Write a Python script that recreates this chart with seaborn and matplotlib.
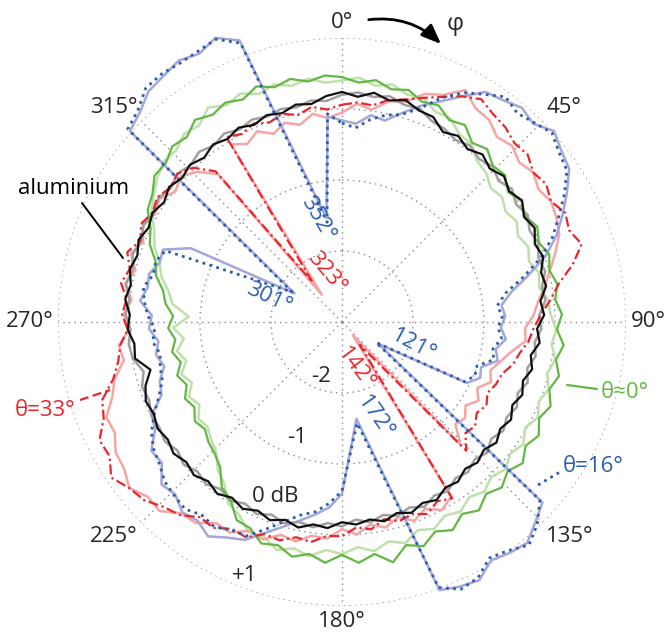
import numpy as np
import matplotlib
matplotlib.use('Agg')
import matplotlib.pyplot as plt
import seaborn as sns
from matplotlib.lines import Line2D

# measurement angles phi (deg), one value per 4 degrees; nan = no sample there
phi = np.arange(0, 360, 4)
nan = np.nan

# relative level in dB
aluminium = [
    0.24, 0.18, 0.26, 0.19, 0.25, 0.17, 0.16, 0.03, 0.09, 0.01,
    0.08, 0.00, 0.07, -0.01, 0.06, -0.04, 0.02, -0.07, -0.02, -0.11,
    -0.08, -0.19, -0.15, -0.25, -0.20, -0.30, -0.24, -0.32, -0.26, -0.33,
    -0.25, -0.31, -0.24, -0.31, -0.25, -0.30, -0.22, -0.25, -0.16, -0.21,
    -0.14, -0.20, -0.13, -0.19, -0.14, -0.18, -0.09, -0.12, -0.04, -0.10,
    -0.03, -0.09, -0.02, -0.08, -0.01, -0.07, 0.00, -0.05, 0.01, -0.04,
    0.00, -0.05, -0.02, -0.09, -0.22, -0.04, -0.06, 0.02, -0.01, 0.07,
    0.02, 0.08, 0.03, 0.09, 0.03, 0.08, 0.02, 0.09, 0.03, 0.08,
    0.02, 0.09, 0.04, 0.10, 0.04, 0.10, 0.06, 0.13, 0.10, 0.19]
aluminium_2 = [
    0.20, 0.24, 0.20, 0.25, 0.18, 0.20, 0.10, 0.08, 0.02, 0.07,
    0.00, 0.05, -0.03, 0.04, -0.04, 0.02, -0.06, -0.02, -0.09, -0.05,
    -0.14, -0.12, -0.22, -0.19, -0.27, -0.23, -0.31, -0.25, -0.33, -0.26,
    -0.32, -0.26, -0.33, -0.25, -0.31, -0.24, -0.28, -0.19, -0.23, -0.15,
    -0.22, -0.16, -0.22, -0.15, -0.21, -0.12, -0.16, -0.08, -0.12, -0.05,
    -0.11, -0.04, -0.10, -0.03, -0.09, -0.02, -0.07, 0.00, -0.06, 0.01,
    -0.03, -0.01, -0.07, -0.04, -0.12, -0.01, 0.02, -0.02, 0.05, 0.01,
    0.09, 0.04, 0.10, 0.05, 0.11, 0.06, 0.12, 0.06, 0.12, 0.07,
    0.13, 0.07, 0.13, 0.07, 0.12, 0.08, 0.12, 0.09, 0.15, 0.12]
theta0 = [
    0.45, 0.38, 0.44, 0.35, 0.40, 0.30, 0.34, 0.22, 0.27, 0.12,
    0.18, 0.06, 0.09, -0.03, 0.05, -0.02, 0.06, -0.01, 0.07, 0.01,
    0.08, 0.02, 0.10, 0.03, 0.14, 0.06, 0.15, 0.07, 0.17, 0.09,
    0.20, 0.12, 0.23, 0.14, 0.24, 0.16, 0.28, 0.19, 0.32, 0.23,
    0.36, 0.27, 0.46, 0.30, 0.40, 0.28, 0.40, 0.30, 0.38, 0.27,
    0.32, 0.18, 0.16, -0.04, -0.12, -0.33, -0.42, -0.47, -0.55, -0.50,
    -0.60, -0.54, -0.64, -0.56, -0.66, -0.57, -0.64, -0.55, -0.62, -0.50,
    -0.44, -0.30, -0.24, -0.08, 0.00, 0.16, 0.22, 0.35, 0.34, 0.44,
    0.40, 0.52, 0.44, 0.50, 0.43, 0.53, 0.44, 0.50, 0.42, 0.48]
theta0_2 = [
    0.40, 0.45, 0.36, 0.42, 0.33, 0.36, 0.24, 0.25, 0.12, 0.10,
    -0.04, -0.08, -0.18, -0.14, -0.22, -0.16, -0.24, -0.17, -0.23, -0.14,
    -0.18, -0.08, -0.06, 0.02, -0.03, 0.05, -0.02, 0.06, -0.01, 0.07,
    -0.02, 0.08, 0.01, 0.10, 0.03, 0.12, 0.05, 0.15, 0.09, 0.19,
    0.12, 0.24, 0.16, 0.26, 0.18, 0.27, 0.22, 0.33, 0.26, 0.34,
    0.22, 0.24, 0.08, 0.02, -0.18, -0.28, -0.45, -0.52, -0.60, -0.56,
    -0.68, -0.60, -0.72, -0.62, -0.74, -0.64, -0.76, -0.62, -0.84, -0.60,
    -0.52, -0.38, -0.30, -0.15, -0.06, 0.10, 0.20, 0.30, 0.38, 0.36,
    0.46, 0.42, 0.56, 0.46, 0.52, 0.42, 0.48, 0.40, 0.46, 0.38]
theta33 = [
    0.06, 0.10, 0.08, 0.20, 0.26, 0.36, 0.47, 0.60, 0.70, 0.62,
    0.58, 0.50, 0.52, 0.42, 0.47, 0.40, 0.50, 0.45, 0.55, 0.35,
    0.10, -0.05, -0.20, -0.30, -0.36, -0.46, -0.52, -0.63, -0.66, -0.72,
    -0.65, -0.71, -0.62, -0.66, -0.48, nan, nan, -0.07, -0.14, -0.04,
    -0.12, -0.08, -0.16, -0.05, -0.10, 0.02, 0.02, 0.13, 0.10, 0.20,
    0.18, 0.32, 0.30, 0.42, 0.40, 0.55, 0.62, 0.75, 0.80, 0.92,
    0.78, 0.80, 0.62, 0.55, 0.32, 0.20, 0.14, 0.02, 0.10, 0.05,
    0.16, 0.08, 0.18, 0.06, 0.15, 0.08, 0.14, 0.07, 0.12, 0.02,
    -0.23, nan, 0.07, 0.00, 0.06, -0.01, 0.05, -0.02, 0.06, 0.00]
theta33_2 = [
    -0.05, 0.08, 0.02, 0.18, 0.22, 0.42, 0.50, 0.70, 0.55, 0.52,
    0.40, 0.45, 0.36, 0.42, 0.34, 0.40, 0.36, 0.30, 0.16, 0.02,
    -0.10, -0.22, -0.30, -0.42, -0.40, -0.58, -0.70, -0.80, -0.74, -0.88,
    -0.78, -0.90, -0.80, -0.85, -0.60, nan, nan, -0.10, 0.00, -0.12,
    -0.02, -0.14, -0.04, -0.12, 0.00, -0.08, 0.06, 0.04, 0.16, 0.12,
    0.26, 0.22, 0.36, 0.34, 0.50, 0.52, 0.70, 0.68, 0.80, 0.70,
    0.68, 0.56, 0.58, 0.40, 0.30, 0.12, 0.16, 0.00, 0.08, -0.02,
    0.10, 0.00, 0.12, 0.02, 0.12, 0.04, 0.10, -0.02, 0.06, -0.06,
    -0.28, nan, -0.05, -0.16, -0.06, -0.18, -0.08, -0.16, -0.04, -0.12]
theta16 = [
    -0.20, -0.26, -0.12, -0.02, 0.04, 0.20, 0.46, 0.66, 0.78, 0.92,
    0.84, 0.90, 0.98, 0.88, 0.82, 0.62, 0.40, 0.20, -0.05, -0.36,
    -0.66, -0.80, -0.74, -0.80, -0.74, -0.84, -0.80, -1.00, -0.98, -1.08,
    nan, nan, nan, 0.75, 0.96, 1.10, 0.98, 0.92, 1.08, 1.12,
    0.98, nan, nan, nan, nan, -0.62, -0.44, -0.30, -0.22, -0.08,
    0.10, 0.30, 0.32, 0.40, 0.36, 0.44, 0.40, 0.36, 0.26, 0.20,
    0.10, -0.06, -0.22, -0.34, -0.36, -0.40, -0.32, -0.36, -0.26, -0.20,
    -0.16, -0.26, -0.24, -0.32, nan, nan, nan, nan, 1.06, 1.14,
    1.30, 1.32, 1.30, 1.32, 1.36, 1.18, nan, nan, nan, -0.06]
theta16_2 = [
    -0.16, -0.20, -0.06, -0.10, 0.06, 0.24, 0.40, 0.60, 0.82, 0.86,
    0.94, 0.88, 1.02, 0.92, 0.86, 0.66, 0.46, 0.26, 0.02, -0.30,
    -0.58, -0.74, -0.70, -0.76, -0.68, -0.80, -0.74, -0.94, -0.90, -1.04,
    nan, nan, nan, 0.80, 0.92, 1.06, 1.02, 0.96, 1.12, 1.08,
    1.02, nan, nan, nan, nan, -0.58, -0.38, -0.26, -0.14, 0.00,
    0.16, 0.36, 0.44, 0.56, 0.46, 0.50, 0.38, 0.42, 0.22, 0.24,
    0.04, -0.02, -0.26, -0.30, -0.42, -0.34, -0.40, -0.28, -0.32, -0.14,
    -0.22, -0.20, -0.30, -0.28, -0.63, nan, nan, nan, 1.02, 1.10,
    1.24, 1.28, 1.34, 1.28, 1.38, 1.22, nan, nan, nan, -0.10]

# narrow dips (angle of minimum, level)
dip16_phi = [121, 171.5, 301, 351.5]
dip16_db = [-2.44, -1.56, -2.18, -1.58]
dip16_2_db = [-2.40, -1.62, -2.22, -1.52]
dip33_phi = [142, 323.5]
dip33_db = [-2.59, -2.30]
dip33_2_phi = [140.5, 323.5]
dip33_2_db = [-2.76, -2.52]

dip_labels = ['352°', '323°', '301°', '121°', '142°', '172°']

r_ticks = [-2, -1, 0, 1]
r_labels = ['-2', '-1', '0 dB', '+1']
phi_ticks = [0, 45, 90, 135, 180, 225, 270, 315]

GREEN, LGREEN = '#62b842', '#bfe0ab'
RED, PINK = '#e8262b', '#f6a5a5'
BLUE, LAV = '#2b5fae', '#a4a7d9'
FS = 16


def trace(vals, extra_phi=(), extra_db=()):
    v = np.asarray(vals, dtype=float)
    keep = ~np.isnan(v)
    a = np.r_[phi[keep], extra_phi]
    d = np.r_[v[keep], extra_db]
    o = np.argsort(a)
    a, d = a[o], d[o]
    a = np.r_[a, a[0] + 360]
    d = np.r_[d, d[0]]
    return np.deg2rad(a), d


sns.set_theme(style='white')
plt.rcParams['font.family'] = ['Open Sans', 'DejaVu Sans']

fig = plt.figure(figsize=(6.65, 6.33), dpi=100)
ax = fig.add_axes([0.0872, 0.0427, 0.8541, 0.8973], projection='polar')
ax.set_theta_zero_location('N')
ax.set_theta_direction(-1)

series = [
    (theta0_2, (), (), dict(color=LGREEN, lw=1.8, ls='-', zorder=3)),
    (theta33_2, dip33_2_phi, dip33_2_db, dict(color=PINK, lw=1.8, ls='-', zorder=3)),
    (theta16_2, dip16_phi, dip16_2_db, dict(color=LAV, lw=1.8, ls='-', zorder=3)),
    (aluminium_2, (), (), dict(color='#a0a0a0', lw=1.8, ls='-', zorder=4)),
    (theta0, (), (), dict(color=GREEN, lw=1.6, ls='-', zorder=5)),
    (theta33, dip33_phi, dip33_db, dict(color=RED, lw=1.6, ls=(0, (4.5, 1.6, 1, 1.6)), zorder=5)),
    (theta16, dip16_phi, dip16_db, dict(color=BLUE, lw=2.0, ls=(0, (1, 1.6)), zorder=6)),
    (aluminium, (), (), dict(color='#111111', lw=1.6, ls='-', zorder=7)),
]
for vals, ep, ed, style in series:
    th, r = trace(vals, ep, ed)
    sns.lineplot(x=th, y=r, ax=ax, sort=False, estimator=None,
                 clip_on=False, **style)

ax.set_ylim(-3, 1)
ax.set_yticks(r_ticks)
ax.set_yticklabels([])
ax.set_xticks(np.deg2rad(phi_ticks))
ax.set_xticklabels([])
ax.grid(True, color='#8a8a8a', lw=1.0, ls=(0, (1, 3)))
ax.spines['polar'].set_visible(False)
ax.set_xlabel('')
ax.set_ylabel('')
ax.set_facecolor('white')

# angle labels just outside the +1 dB circle
for p in phi_ticks:
    s, c = np.sin(np.deg2rad(p)), np.cos(np.deg2rad(p))
    ha = 'left' if s > 0.3 else ('right' if s < -0.3 else 'center')
    va = 'bottom' if c > 0.3 else ('top' if c < -0.3 else 'center')
    ax.annotate(f'{p}°', xy=(np.deg2rad(p), r_ticks[-1]),
                xytext=(3.5 * s, 3.5 * c), textcoords='offset points',
                ha=ha, va=va, fontsize=FS, annotation_clip=False)

for rt, lab, off in zip(r_ticks, r_labels, [0.17, 0.25, 0.37, 0.17]):
    ax.text(np.deg2rad(201), rt - off, lab, fontsize=FS, ha='center',
            va='center', zorder=8)

# dip labels (phi, level, rotation, colour)
dip_pos = [(346.6, -1.50, -60, BLUE), (343, -2.28, -50, RED),
           (288, -1.92, -25, BLUE), (108, -1.94, -28, BLUE),
           (164, -2.32, -53, RED), (160.8, -1.58, -55, BLUE)]
for lab, (p, d, rot, c) in zip(dip_labels, dip_pos):
    ax.text(np.deg2rad(p), d, lab, fontsize=FS, color=c, rotation=rot,
            rotation_mode='anchor', ha='center', va='center', zorder=8)


def fpx(x, y):
    return x / 665, 1 - y / 633


# curve labels with leaders
labels = [('aluminium', (18, 188), 'black', (82, 203), (123, 258), '-', 1.4),
          ('θ≈0°', (601, 393), GREEN, (567, 385), (597, 389), '-', 1.6),
          ('θ=16°', (563, 467), BLUE, (538, 485), (560, 472), (0, (1, 1.6)), 2.0),
          ('θ=33°', (15, 410), RED, (80, 400), (110, 390), (0, (4, 2)), 1.6)]
for txt, tp, c, p0, p1, ls, lw in labels:
    fig.text(*fpx(*tp), txt, color=c, fontsize=FS, ha='left', va='center')
    a, b = fpx(*p0), fpx(*p1)
    fig.add_artist(Line2D([a[0], b[0]], [a[1], b[1]], color=c, lw=lw, ls=ls))

# rotation sense arrow
fig.text(*fpx(455, 24), 'φ', fontsize=FS + 1, ha='center', va='center')
ax.annotate('', xy=fpx(443, 46), xytext=fpx(366, 20),
            xycoords='figure fraction', textcoords='figure fraction',
            arrowprops=dict(arrowstyle='-|>,head_length=1.0,head_width=0.4',
                            color='black', lw=2,
                            connectionstyle='arc3,rad=-0.25'))

fig.savefig('out.png', dpi=100)
